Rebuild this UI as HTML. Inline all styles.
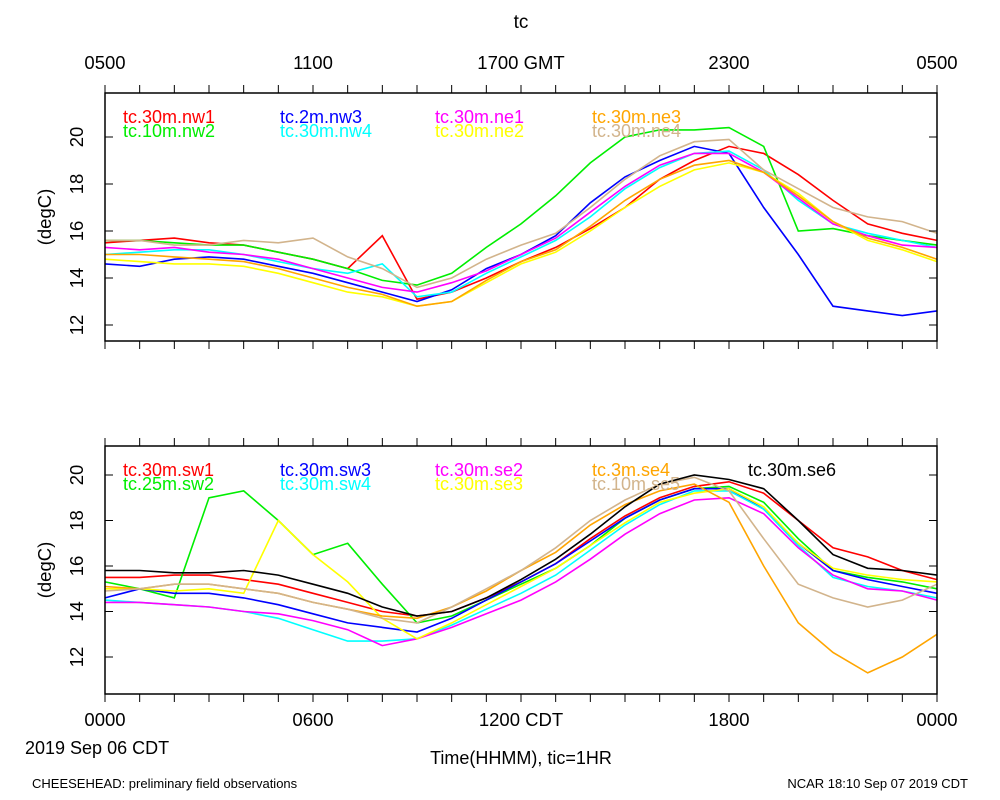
<!DOCTYPE html>
<html><head><meta charset="utf-8"><style>
body{margin:0;background:#fff;}
svg{display:block;font-family:"Liberation Sans",sans-serif;}
</style></head><body>
<svg id="chart" width="1000" height="800" xmlns="http://www.w3.org/2000/svg">
<text x="521" y="28" font-size="19" text-anchor="middle">tc</text>
<g font-size="18.5" text-anchor="middle">
<text x="105" y="69">0500</text><text x="313" y="69">1100</text><text x="521" y="69">1700 GMT</text><text x="729" y="69">2300</text><text x="937" y="69">0500</text>
</g>
<g font-size="18.5" text-anchor="middle">
<text x="105" y="726">0000</text><text x="313" y="726">0600</text><text x="521" y="726">1200 CDT</text><text x="729" y="726">1800</text><text x="937" y="726">0000</text>
</g>
<text x="25" y="754" font-size="18">2019 Sep 06 CDT</text>
<text x="521" y="764" font-size="18" text-anchor="middle">Time(HHMM), tic=1HR</text>
<text x="32" y="788" font-size="13">CHEESEHEAD: preliminary field observations</text>
<text x="968" y="788" font-size="13" text-anchor="end">NCAR 18:10 Sep 07 2019 CDT</text>
<g id="p1"></g><g id="p2"></g>
</svg>
<script>
const hours=[0,1,2,3,4,5,6,7,8,9,10,11,12,13,14,15,16,17,18,19,20,21,22,23,24];
const yTicks=[12,14,16,18,20];
const topNames=["tc.30m.nw1","tc.10m.nw2","tc.2m.nw3","tc.30m.nw4","tc.30m.ne1","tc.30m.ne2","tc.30m.ne3","tc.30m.ne4"];
const topColors=["#ff0000","#00ee00","#0000ff","#00ffff","#ff00ff","#ffff00","#ffa500","#d2b48c"];
const nw1=[15.5,15.6,15.7,15.5,15.4,15.1,14.8,14.4,15.8,13.1,13.4,14.0,14.7,15.3,16.1,17.0,18.2,19.0,19.6,19.3,18.4,17.3,16.3,15.9,15.6];
const nw2=[15.6,15.6,15.5,15.4,15.4,15.1,14.8,14.4,13.9,13.7,14.2,15.3,16.3,17.5,18.9,20.0,20.3,20.3,20.4,19.6,16.0,16.1,15.8,15.6,15.4];
const nw3=[14.6,14.5,14.8,14.9,14.8,14.5,14.2,13.8,13.4,13.0,13.5,14.4,15.0,15.8,17.2,18.3,19.0,19.6,19.3,17.0,15.0,12.8,12.6,12.4,12.6];
const nw4=[15.0,15.1,15.2,15.2,15.0,14.7,14.4,14.2,14.6,13.2,13.4,14.2,14.9,15.6,16.6,17.8,18.7,19.3,19.4,18.6,17.3,16.3,15.9,15.6,15.3];
const ne1=[15.3,15.2,15.3,15.1,15.0,14.8,14.4,14.0,13.6,13.4,13.8,14.3,15.0,15.7,16.8,17.9,18.8,19.3,19.3,18.5,17.4,16.3,15.8,15.4,15.3];
const ne2=[14.8,14.7,14.6,14.6,14.5,14.2,13.8,13.4,13.2,12.8,13.0,13.8,14.6,15.1,16.0,17.0,17.9,18.6,18.9,18.5,17.6,16.4,15.6,15.2,14.7];
const ne3=[15.0,15.0,14.9,14.8,14.7,14.4,14.0,13.6,13.3,12.8,13.0,13.9,14.7,15.2,16.2,17.3,18.2,18.8,19.0,18.5,17.5,16.4,15.7,15.3,14.8];
const ne4=[15.6,15.6,15.4,15.4,15.6,15.5,15.7,14.9,14.4,13.6,14.0,14.8,15.4,15.9,17.0,18.2,19.2,19.8,19.9,18.6,17.8,17.0,16.6,16.4,15.9];
const botNames=["tc.30m.sw1","tc.25m.sw2","tc.30m.sw3","tc.30m.sw4","tc.30m.se2","tc.30m.se3","tc.3m.se4","tc.10m.se5","tc.30m.se6"];
const botColors=["#ff0000","#00ee00","#0000ff","#00ffff","#ff00ff","#ffff00","#ffa500","#d2b48c","#000000"];
const sw1=[15.5,15.5,15.6,15.6,15.4,15.2,14.8,14.4,14.0,13.8,14.0,14.6,15.3,16.1,17.2,18.2,19.0,19.5,19.7,19.2,18.0,16.8,16.4,15.8,15.4];
const sw2=[15.3,15.0,14.6,19.0,19.3,18.0,16.5,17.0,15.2,13.5,13.8,14.5,15.2,15.9,16.9,18.1,18.9,19.4,19.5,18.8,17.2,15.8,15.5,15.3,15.0];
const sw3=[14.6,15.0,14.8,14.8,14.6,14.3,13.9,13.5,13.3,13.1,13.7,14.5,15.3,16.1,17.1,18.1,18.9,19.4,19.4,18.5,17.0,15.8,15.4,15.1,14.8];
const sw4=[14.5,14.4,14.3,14.2,14.0,13.7,13.2,12.7,12.7,12.8,13.4,14.1,14.8,15.6,16.7,17.8,18.7,19.3,19.3,18.5,16.9,15.5,15.1,14.9,14.6];
const se2=[14.4,14.4,14.3,14.2,14.0,13.9,13.6,13.2,12.5,12.8,13.3,13.9,14.5,15.3,16.3,17.4,18.3,18.9,19.0,18.3,16.8,15.6,15.0,14.9,14.5];
const se3=[15.0,15.0,14.9,15.0,14.8,18.0,16.5,15.3,13.7,12.8,13.5,14.3,15.1,15.9,16.9,17.9,18.8,19.2,19.4,18.6,17.0,15.9,15.6,15.4,15.3];
const se4=[15.1,15.0,15.2,15.2,15.0,14.8,14.4,14.1,13.8,13.7,14.2,14.9,15.8,16.6,17.8,18.7,19.3,19.6,18.8,16.0,13.5,12.2,11.3,12.0,13.0];
const se5=[14.9,15.0,15.2,15.2,15.0,14.8,14.4,14.1,13.7,13.5,14.2,15.0,15.8,16.8,18.0,18.9,19.6,19.9,19.3,17.2,15.2,14.6,14.2,14.5,15.2];
const se6=[15.8,15.8,15.7,15.7,15.8,15.6,15.2,14.8,14.2,13.8,14.0,14.6,15.4,16.3,17.4,18.6,19.6,20.0,19.8,19.4,18.0,16.5,15.9,15.8,15.6];
const topSeries=[nw1,nw2,nw3,nw4,ne1,ne2,ne3,ne4];
const botSeries=[sw1,sw2,sw3,sw4,se2,se3,se4,se5,se6];

const NS="http://www.w3.org/2000/svg";
function mk(tag,attrs,parent){const e=document.createElementNS(NS,tag);for(const k in attrs)e.setAttribute(k,attrs[k]);parent.appendChild(e);return e;}
function panel(g,top,bottom,y20,y12,names,colors,series,pname){
  const L=105,R=937;
  const x=h=>L+(R-L)*h/24;
  const y=v=>y12+(v-12)*(y20-y12)/8;
  series.forEach((s,i)=>{
    const d=s.map((v,k)=>(k?'L':'M')+x(hours[k]).toFixed(1)+' '+y(v).toFixed(1)).join(' ');
    const p=mk('path',{d:d,fill:'none',stroke:colors[i],'stroke-width':1.6},g);
    
    
  });
  const f=mk('rect',{x:L,y:top,width:R-L,height:bottom-top,fill:'none',stroke:'#000','stroke-width':1.5},g);
  
  
  hours.forEach(h=>{
    mk('line',{x1:x(h),x2:x(h),y1:top,y2:top-8,stroke:'#000','stroke-width':1},g);
    mk('line',{x1:x(h),x2:x(h),y1:bottom,y2:bottom+8,stroke:'#000','stroke-width':1},g);
  });
  yTicks.forEach(v=>{
    mk('line',{x1:L,x2:L+8,y1:y(v),y2:y(v),stroke:'#000','stroke-width':1},g);
    mk('line',{x1:R,x2:R-8,y1:y(v),y2:y(v),stroke:'#000','stroke-width':1},g);
    const t=mk('text',{x:0,y:0,'font-size':18.5,'text-anchor':'middle',transform:`translate(83,${y(v)}) rotate(-90)`},g);
    t.textContent=v;
    
    
  });
  const yt=mk('text',{x:0,y:0,'font-size':18.5,'text-anchor':'middle',transform:`translate(51,${(top+bottom)/2}) rotate(-90)`},g);
  yt.textContent='(degC)';
  
  
  const lx=[123,280,435,592,748];
  names.forEach((n,i)=>{
    let col,row;
    if(names.length===9&&i===8){col=4;row=0;}else{col=Math.floor(i/2);row=i%2;}
    const t=mk('text',{x:lx[col],y:top+30+row*14,'font-size':18,fill:colors[i]},g);
    t.textContent=n;
    
    
  });
}
panel(document.getElementById('p1'),93,341,137,325,topNames,topColors,topSeries,'top-panel');
panel(document.getElementById('p2'),446,694,475,657,botNames,botColors,botSeries,'bottom-panel');
</script>
</body></html>
